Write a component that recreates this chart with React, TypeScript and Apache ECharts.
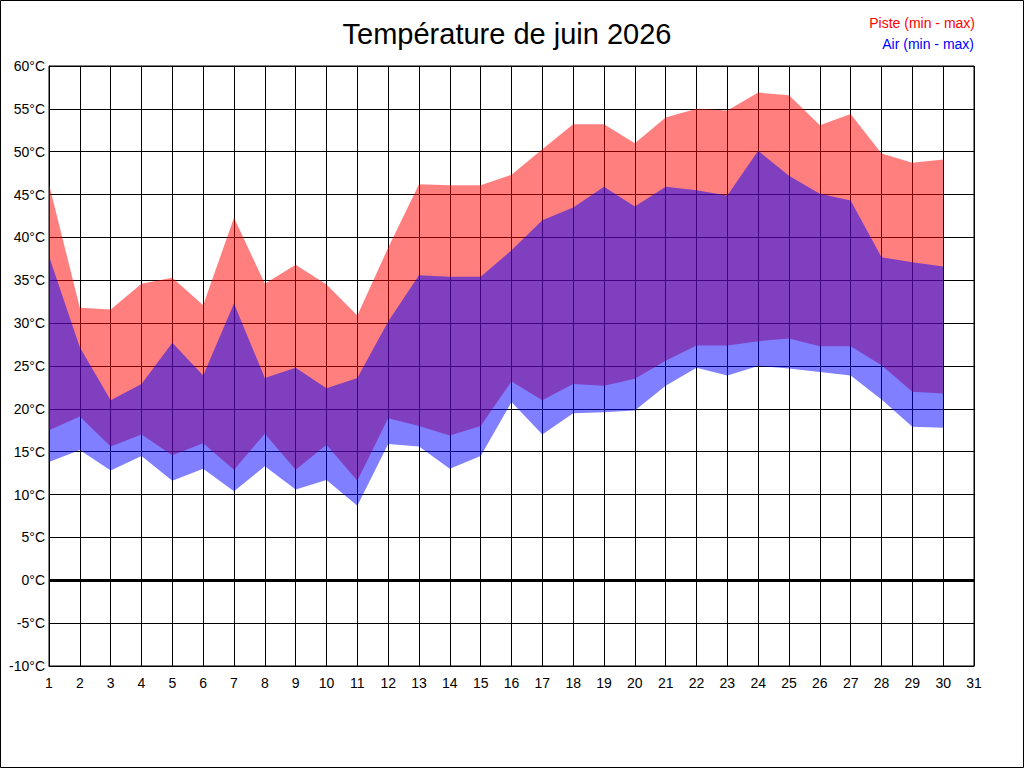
import React, { useEffect, useRef } from "react";
import * as echarts from "echarts";

const dayLabels = [
  "1", "2", "3", "4", "5", "6", "7", "8", "9", "10",
  "11", "12", "13", "14", "15", "16", "17", "18", "19", "20",
  "21", "22", "23", "24", "25", "26", "27", "28", "29", "30", "31",
];

const pisteMax = [
  46.2, 31.8, 31.6, 34.6, 35.3, 32.1, 42.3, 34.6, 36.8, 34.5,
  30.9, 38.8, 46.2, 46.1, 46.1, 47.3, 50.3, 53.2, 53.2, 51.0,
  54.0, 55.0, 54.8, 56.9, 56.6, 53.1, 54.4, 49.8, 48.7, 49.1,
];
const pisteMin = [
  17.5, 19.1, 15.6, 17.0, 14.6, 16.0, 12.9, 17.1, 12.9, 15.8,
  11.6, 18.9, 18.0, 16.9, 18.0, 23.2, 21.0, 22.9, 22.7, 23.5,
  25.6, 27.4, 27.4, 27.9, 28.2, 27.3, 27.3, 25.1, 22.0, 21.8,
];
const airMax = [
  37.8, 27.2, 21.0, 22.9, 27.7, 23.9, 32.3, 23.6, 24.8, 22.4,
  23.6, 30.2, 35.6, 35.4, 35.4, 38.5, 42.0, 43.5, 45.9, 43.6,
  45.9, 45.5, 44.9, 50.1, 47.2, 45.1, 44.3, 37.7, 37.1, 36.6,
];
const airMin = [
  13.8, 15.2, 12.8, 14.5, 11.6, 13.0, 10.4, 13.3, 10.6, 11.7,
  8.7, 15.9, 15.6, 13.0, 14.5, 20.8, 17.0, 19.5, 19.6, 19.8,
  22.7, 24.8, 23.9, 25.0, 24.7, 24.3, 23.9, 21.1, 17.9, 17.8,
];

const titleText = "Température de juin 2026";
const legendPiste = "Piste (min - max)";
const legendAir = "Air (min - max)";

const FONT = "'Liberation Sans', Arial, sans-serif";

export default function App() {
  const ref = useRef<HTMLDivElement>(null);

  useEffect(() => {
    document.body.style.margin = "0";
    if (!ref.current) return;
    const chart = echarts.init(ref.current, undefined, { renderer: "svg" });

    const pisteDelta = pisteMax.map((v, i) => +(v - pisteMin[i]).toFixed(2));
    const airDelta = airMax.map((v, i) => +(v - airMin[i]).toFixed(2));

    const option: any = {
      animation: false,
      backgroundColor: "#fff",
      textStyle: { fontFamily: FONT },
      grid: {
        left: 49,
        right: 50,
        top: 66,
        bottom: 102,
        show: true,
        borderColor: "#000",
        borderWidth: 1,
        backgroundColor: "transparent",
      },
      xAxis: {
        type: "category",
        data: dayLabels,
        boundaryGap: false,
        axisLine: { show: true, onZero: false, lineStyle: { color: "#000", width: 1 } },
        axisTick: { show: false },
        axisLabel: {
          interval: 0,
          color: "#000",
          fontSize: 14,
          fontFamily: FONT,
          margin: 10,
        },
        splitLine: { show: true, interval: 0, lineStyle: { color: "#000", width: 1 } },
      },
      yAxis: {
        type: "value",
        min: -10,
        max: 60,
        interval: 5,
        axisLine: { show: true, lineStyle: { color: "#000", width: 1 } },
        axisTick: { show: false },
        axisLabel: {
          formatter: "{value}°C",
          color: "#000",
          fontSize: 14,
          fontFamily: FONT,
          margin: 4,
        },
        splitLine: { show: true, lineStyle: { color: "#000", width: 1 } },
      },
      series: [
        {
          name: "pisteBase",
          type: "line",
          stack: "piste",
          data: pisteMin,
          symbol: "none",
          lineStyle: { width: 0, opacity: 0 },
          silent: true,
          z: 2,
          markLine: {
            silent: true,
            symbol: "none",
            label: { show: false },
            lineStyle: { color: "#000", width: 3, type: "solid" },
            data: [{ yAxis: 0 }],
          },
        },
        {
          name: legendPiste,
          type: "line",
          stack: "piste",
          data: pisteDelta,
          symbol: "none",
          lineStyle: { width: 0, opacity: 0 },
          areaStyle: { color: "rgba(255,0,0,0.5)", opacity: 1 },
          z: 3,
        },
        {
          name: "airBase",
          type: "line",
          stack: "air",
          data: airMin,
          symbol: "none",
          lineStyle: { width: 0, opacity: 0 },
          silent: true,
          z: 4,
        },
        {
          name: legendAir,
          type: "line",
          stack: "air",
          data: airDelta,
          symbol: "none",
          lineStyle: { width: 0, opacity: 0 },
          areaStyle: { color: "rgba(0,0,255,0.5)", opacity: 1 },
          z: 5,
        },
      ],
      graphic: [
        {
          type: "rect",
          silent: true,
          shape: { x: 0.5, y: 0.5, width: 1023, height: 767 },
          style: { fill: "none", stroke: "#000", lineWidth: 1 },
          z: 100,
        },
        {
          type: "text",
          x: 507,
          y: 34,
          style: {
            text: titleText,
            fill: "#000",
            font: `29px ${FONT}`,
            textAlign: "center",
            textVerticalAlign: "middle",
          },
        },
        {
          type: "text",
          x: 975,
          y: 23,
          style: {
            text: legendPiste,
            fill: "#ff0000",
            font: `14px ${FONT}`,
            textAlign: "right",
            textVerticalAlign: "middle",
          },
        },
        {
          type: "text",
          x: 974,
          y: 44,
          style: {
            text: legendAir,
            fill: "#0000ff",
            font: `14px ${FONT}`,
            textAlign: "right",
            textVerticalAlign: "middle",
          },
        },
      ],
    };

    chart.setOption(option);
    return () => chart.dispose();
  }, []);

  return <div ref={ref} style={{ width: 1024, height: 768 }} />;
}
